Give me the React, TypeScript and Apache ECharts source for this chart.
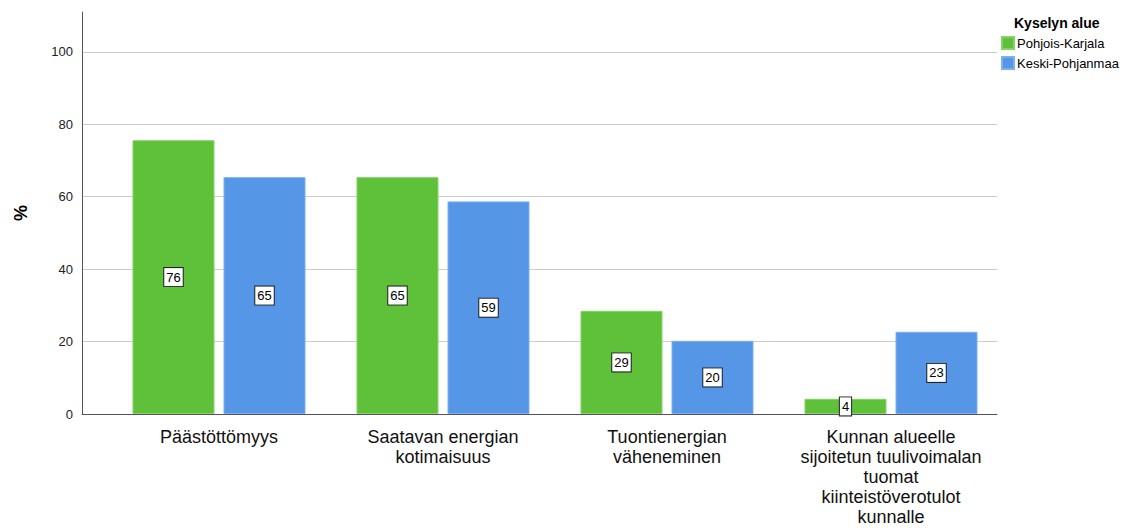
import React, { useEffect, useRef } from "react";
import * as echarts from "echarts";

const categories = [
  "Päästöttömyys",
  "Saatavan energian\nkotimaisuus",
  "Tuontienergian\nväheneminen",
  "Kunnan alueelle\nsijoitetun tuulivoimalan\ntuomat\nkiinteistöverotulot\nkunnalle",
];
const seriesNames = ["Pohjois-Karjala", "Keski-Pohjanmaa"];
const pohjoisKarjala = [75.6, 65.4, 28.5, 4.2];
const keskiPohjanmaa = [65.4, 58.7, 20.2, 22.7];
const yTicks = [0, 20, 40, 60, 80, 100];
const legendTitle = "Kyselyn alue";
const yName = "%";

const FONT = "'Liberation Sans', Arial, sans-serif";
const GREEN = "#5ec139";
const BLUE = "#5596e6";

export default function App() {
  const ref = useRef<HTMLDivElement>(null);
  useEffect(() => {
    if (!ref.current) return;
    const chart = echarts.init(ref.current, null, { renderer: "svg" });
    const yMax = 111;
    const gridColors = yTicks.map(() => "#cccccc").concat(["transparent"]);
    const label = {
      show: true,
      position: "inside",
      formatter: (p: any) => String(Math.round(p.value)),
      fontFamily: FONT,
      fontSize: 13,
      color: "#000",
      backgroundColor: "#fff",
      borderColor: "#222",
      borderWidth: 1,
      padding: [3, 2, 2, 2],
    };
    chart.setOption({
      animation: false,
      textStyle: { fontFamily: FONT },
      title: {
        text: legendTitle,
        left: 1014,
        top: 16,
        padding: 0,
        textStyle: { fontFamily: FONT, fontSize: 14, fontWeight: "bold", color: "#000" },
      },
      legend: {
        orient: "vertical",
        left: 1001,
        top: 36,
        padding: 0,
        itemWidth: 12,
        itemHeight: 12,
        itemGap: 6,
        icon: "rect",
        data: seriesNames,
        textStyle: { fontFamily: FONT, fontSize: 13, color: "#000", padding: [0, 0, 0, -2] },
      },
      grid: [
        { left: 82, right: 129, top: 12, bottom: 114 },
        { left: 107, right: 123, top: 12, bottom: 114 },
      ],
      xAxis: [
        {
          gridIndex: 0,
          type: "value",
          min: 0,
          max: 1,
          axisLine: { show: true, lineStyle: { color: "#555", width: 1 } },
          axisTick: { show: false },
          axisLabel: { show: false },
          splitLine: { show: false },
        },
        {
          gridIndex: 1,
          type: "category",
          data: categories,
          axisLine: { show: false },
          axisTick: { show: false },
          axisLabel: {
            interval: 0,
            margin: 13,
            fontFamily: FONT,
            fontSize: 18,
            lineHeight: 20,
            color: "#111",
            align: "center",
          },
        },
      ],
      yAxis: [
        {
          gridIndex: 0,
          type: "value",
          min: 0,
          max: yMax,
          interval: 20,
          name: yName,
          nameLocation: "middle",
          nameRotate: 90,
          nameGap: 52,
          nameTextStyle: { fontFamily: FONT, fontSize: 18, fontWeight: "bold", color: "#000" },
          axisLine: { show: true, lineStyle: { color: "#555", width: 1 } },
          axisTick: { show: false },
          axisLabel: {
            showMaxLabel: false,
            margin: 9,
            fontFamily: FONT,
            fontSize: 13,
            color: "#222",
            formatter: (v: number) => (yTicks.includes(v) ? String(v) : ""),
          },
          splitLine: { show: true, lineStyle: { color: gridColors, width: 1 } },
        },
        {
          gridIndex: 1,
          type: "value",
          min: 0,
          max: yMax,
          show: false,
          splitLine: { show: false },
        },
      ],
      series: [
        {
          name: seriesNames[0],
          type: "bar",
          xAxisIndex: 1,
          yAxisIndex: 1,
          data: pohjoisKarjala,
          barWidth: 82,
          barGap: "11%",
          itemStyle: { color: GREEN, borderColor: "#86d266", borderWidth: 1 },
          label,
        },
        {
          name: seriesNames[1],
          type: "bar",
          xAxisIndex: 1,
          yAxisIndex: 1,
          data: keskiPohjanmaa,
          barWidth: 82,
          barGap: "11%",
          itemStyle: { color: BLUE, borderColor: "#7db0ee", borderWidth: 1 },
          label,
        },
      ],
    });
    return () => chart.dispose();
  }, []);
  return (
    <div
      ref={ref}
      style={{ position: "fixed", left: 0, top: 0, width: 1126, height: 528, background: "#fff" }}
    />
  );
}
